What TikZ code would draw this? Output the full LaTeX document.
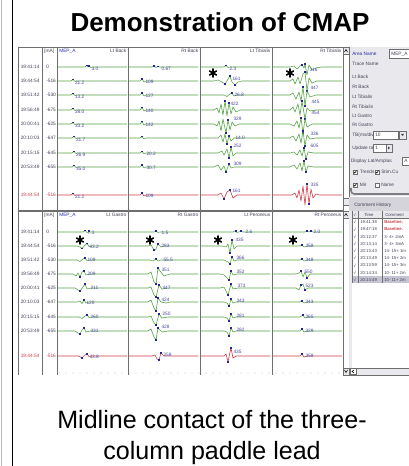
\documentclass[tikz,border=0pt]{standalone}
\usepackage{fontspec}
\setmainfont{Liberation Sans}

\definecolor{trgreen}{RGB}{86,164,70}
\definecolor{trred}{RGB}{204,62,72}
\definecolor{mkblue}{RGB}{36,36,150}
\definecolor{valblue}{RGB}{72,72,160}
\definecolor{linegray}{RGB}{110,110,110}
\definecolor{panelgray}{RGB}{233,233,237}
\definecolor{txtgray}{RGB}{66,66,88}
\definecolor{uiblue}{RGB}{40,40,175}

\newcommand\uifont{\fontsize{3.6}{4.2}\selectfont}
\newcommand\tblfont{\fontsize{3.2}{3.8}\selectfont}

% one recorded trace: column left, baseline, style, deflection, markers, label x, label y, label
\newcommand\trace[8]{%
  \begin{scope}[shift={(#1,#2)}]
    \draw[#3] (1,0) #4 -- (70,0);
    \foreach \mx/\my in {#5} \fill[mkblue] (\mx-0.9,\my-0.9) rectangle ++(1.8,1.8);
    \draw (#6,#7) node[val] {#8};
  \end{scope}}

% stimulation mark
\newcommand\astk[2]{\foreach \ang in {90,30,150} \draw[line width=1.2pt,line cap=round] (#1,#2) ++(\ang:4) -- ++(\ang+180:8);}

\begin{document}
\begin{tikzpicture}[x=0.75pt,y=0.75pt,yscale=-1,xscale=1,
  trg/.style={color=trgreen,line width=0.45pt,line join=round},
  trr/.style={color=trred,line width=0.45pt,line join=round},
  val/.style={anchor=west,inner sep=0.2pt,font=\uifont,text=valblue},
  colline/.style={color=linegray,line width=0.5pt},
  ui/.style={anchor=west,inner sep=0pt,font=\uifont,text=txtgray},
  tbl/.style={anchor=west,inner sep=0pt,font=\tblfont,text=txtgray},
  hdr/.style={anchor=east,inner sep=0pt,font=\uifont,text=txtgray},
  chk/.style={draw=linegray,fill=white,line width=0.3pt}]

\fill[white] (0,0) rectangle (409,466);
\clip (0,0) rectangle (409,466);

%Slide border
\draw[color={rgb,255:red,185;green,185;blue,185},line width=0.8pt] (1.5,0) -- (1.5,466);
\draw[line width=1.1pt] (12.7,0) -- (12.7,466);

% Title
\draw (220,32) node[anchor=base,inner sep=0pt,font=\fontsize{19.5}{23}\selectfont\bfseries] {Demonstration of CMAP};

% Caption
\draw (212,428) node[anchor=base,inner sep=0pt,font=\fontsize{18.8}{23}\selectfont] {Midline contact of the three-};
\draw (212,459) node[anchor=base,inner sep=0pt,font=\fontsize{18.8}{23}\selectfont] {column paddle lead};

% Chart grid
\foreach \cx in {18,42,57,128,200,272,343} \draw[colline] (\cx,47) -- (\cx,375);
\draw[colline] (18,47) -- (343,47);
\draw[colline,line width=0.8pt] (18,211) -- (343,211);
\foreach \dx in {59,66,...,341} \fill[linegray] (\dx,373) circle (0.35);

% Header rows
\foreach \hy/\la/\lb/\lc/\ld in {51/Lt Back/Rt Back/Lt Tibialis/Rt Tibialis,215/Lt Gastro/Rt Gastro/Lt Peroneus/Rt Peroneus}{
  \draw (44,\hy) node[ui] {[mA]};
  \draw (59,\hy) node[ui,text=uiblue] {MEP\_A};
  \draw (126.5,\hy) node[hdr] {\la};
  \draw (198.5,\hy) node[hdr] {\lb};
  \draw (270.5,\hy) node[hdr] {\lc};
  \draw (341.5,\hy) node[hdr] {\ld};
}

% Times and stimulation currents
\foreach \ry/\ti/\ma in {67/19:41:14/0,81/19:44:54/-516,95/19:51:42/-530,110/19:56:49/-675,124/20:00:41/-625,138/20:10:03/-647,153/20:15:15/-645,167/20:53:49/-655,
  232/19:41:14/0,246/19:44:54/-516,260/19:51:42/-530,274/19:56:49/-675,288/20:00:41/-625,302/20:10:03/-647,317/20:15:15/-645,331/20:53:49/-655}{
  \draw (20.5,\ry) node[ui] {\ti};
  \draw (46,\ry) node[ui] {\ma};
}
\foreach \ry in {195,356}{
  \draw (20.5,\ry) node[ui,text=trred] {19:44:54};
  \draw (46,\ry) node[ui,text=trred] {-516};
}

%Traces Lt Back
\trace{57}{67}{trg}{--(28,0)--(30,-1.5)--(31,0)--(32,-0.8)--(34,0.5)--(36,0)}{30/-1.5,32/-0.8}{34}{1.8}{3.0}
\trace{57}{81}{trg}{--(14,0)--(16,-1.5)--(18,0.5)--(20,0)}{16/-1.5}{17.5}{1.8}{21.2}
\trace{57}{95}{trg}{--(14,0)--(16,-1.5)--(18,0.5)--(20,0)}{16/-1.5}{17.5}{1.8}{13.2}
\trace{57}{110}{trg}{--(14,0)--(16,-1.5)--(18,0.5)--(20,0)}{16/-1.5}{17.5}{1.8}{28.0}
\trace{57}{124}{trg}{--(14,0)--(16,-1.5)--(18,0.5)--(20,0)}{16/-1.5}{17.5}{1.8}{33.2}
\trace{57}{138}{trg}{--(15,0)--(17,-1.5)--(19,0.5)--(21,0)}{17/-1.5}{18.5}{1.8}{21.7}
\trace{57}{153}{trg}{--(15,0)--(17,-1.5)--(19,0.5)--(21,0)}{17/-1.5}{18.5}{1.8}{26.9}
\trace{57}{167}{trg}{--(15,0)--(17,-1.5)--(19,0.5)--(21,0)}{17/-1.5}{18.5}{1.8}{35.0}
\trace{57}{195}{trr}{--(14,0)--(16,-1.5)--(18,0.5)--(20,0)}{16/-1.5}{17.5}{1.8}{21.2}

%Traces Rt Back
\trace{128}{67}{trg}{--(24,0)--(26,-1)--(28,0.5)--(30,-0.5)--(32,0)}{26/-1,30/-0.5}{33}{1.8}{0.67}
\trace{128}{81}{trg}{--(12,0)--(14,-2)--(16,1)--(18,0)}{14/-2}{17}{0.8}{109}
\trace{128}{95}{trg}{--(12,0)--(14,-2)--(16,1)--(18,0)}{14/-2}{17}{0.8}{127}
\trace{128}{110}{trg}{--(12,0)--(14,-2.5)--(16,1)--(18,0)}{14/-2.5}{17}{0.8}{140}
\trace{128}{124}{trg}{--(12,0)--(14,-2.5)--(16,1)--(18,0)}{14/-2.5}{17}{0.8}{142}
\trace{128}{138}{trg}{--(12,0)--(14,-1.5)--(16,1)--(18,0)}{14/-1.5}{17}{0.8}{}
\trace{128}{153}{trg}{--(12,0)--(14,-1.5)--(16,0.8)--(18,0)}{14/-1.5}{18}{1}{20.2}
\trace{128}{167}{trg}{--(12,0)--(14,-2)--(16,1)--(18,0)}{14/-2}{18}{0.8}{30.7}
\trace{128}{195}{trr}{--(12,0)--(14,-2)--(16,1)--(18,0)}{14/-2}{17}{0.8}{109}

%Traces Lt Tibialis
\trace{200}{67}{trg}{--(24,0)--(26,-1.5)--(28,0.5)--(30,0)}{26/-1.5}{29}{1.5}{2.3}
\trace{200}{81}{trg}{--(14,0)--(18,-1)--(22,1)--(25,3)--(28,-2)--(30,-5)--(32,1)--(35,4)--(38,1)--(42,0)}{25/3,30/-5,35/4}{32}{-2.5}{161}
\trace{200}{95}{trg}{--(24,0)--(27,1.5)--(30,-1)--(32,-2)--(34,1)--(37,0)}{32/-2}{34}{0}{26.8}
\trace{200}{110}{trg}{--(14,0)--(17,-2)--(19,3)--(21,-6)--(23,5)--(25,-9)--(27,6)--(29,-7)--(31,4)--(33,-3)--(36,2)--(40,0)}{25/-9,29/-7}{30}{-6}{422}
\trace{200}{124}{trg}{--(14,0)--(17,2)--(19,-3)--(21,7)--(23,-5)--(26,9)--(28,-4)--(30,6)--(32,-2)--(35,2)--(39,0)}{26/9,28/-4}{33}{-5}{329}
\trace{200}{138}{trg}{--(18,0)--(21,-3)--(23,4)--(25,-4)--(27,6)--(29,-2)--(31,3)--(34,0)}{27/6,29/-2}{35}{0}{14.0}
\trace{200}{153}{trg}{--(18,0)--(22,-2)--(24,2)--(27,-4)--(29,5)--(31,-6)--(33,3)--(36,0)}{29/5,31/-6}{33}{-7}{252}
\trace{200}{167}{trg}{--(14,0)--(18,-2)--(21,3)--(24,-1)--(26,5)--(29,-3)--(31,1)--(34,0)}{26/5,29/-3}{33}{-3}{309}
\trace{200}{195}{trr}{--(18,0)--(21,-2)--(24,4)--(27,-3)--(30,-5)--(33,3)--(37,0)}{24/4,30/-5}{32}{-4}{161}

%Traces Rt Tibialis
\trace{272}{67}{trg}{--(18,0)--(22,-1)--(25,2)--(28,-1)--(30,-2)--(32,1)--(33,-3)--(35,8)--(37,-2)--(40,3)--(44,1)--(50,0)}{30/-2,33/-3}{37}{3}{316}
\trace{272}{81}{trg}{--(18,0)--(21,-2)--(23,3)--(26,-4)--(28,3)--(31,-7)--(33,-9)--(35,10)--(37,-3)--(40,2)--(45,0)}{33/-9,35/10}{38}{7}{447}
\trace{272}{95}{trg}{--(18,0)--(21,-2)--(24,4)--(27,-3)--(29,6)--(31,-8)--(33,11)--(35,-4)--(38,2)--(44,0)}{31/-8,33/11}{39}{7}{445}
\trace{272}{110}{trg}{--(18,0)--(21,-3)--(23,2)--(26,-6)--(28,5)--(30,-9)--(33,9)--(35,-2)--(38,1)--(44,0)}{30/-9,33/9}{39}{3}{454}
\trace{272}{124}{trg}{--(18,0)--(22,2)--(25,-3)--(27,4)--(29,-6)--(31,9)--(33,-5)--(35,3)--(40,0)}{29/-6,31/9}{38}{10}{336}
\trace{272}{138}{trg}{--(18,0)--(21,-2)--(24,3)--(27,-4)--(29,5)--(31,-7)--(33,8)--(35,-3)--(38,1)--(44,0)}{31/-7,33/8}{38}{8}{605}
\trace{272}{153}{trg}{--(18,0)--(22,-1)--(25,2)--(28,-3)--(30,3)--(32,-5)--(34,6)--(36,-1)--(42,0)}{32/-5,34/6}{38}{-4}{}
\trace{272}{167}{trg}{--(18,0)--(22,-2)--(25,2)--(28,-4)--(30,4)--(32,-6)--(34,5)--(36,-1)--(42,0)}{32/-6,34/5}{38}{-4}{}
\trace{272}{195}{trr}{--(20,0)--(23,-2)--(25,3)--(27,-5)--(29,6)--(31,-9)--(33,10)--(35,-11)--(37,9)--(39,-6)--(41,3)--(44,-1)--(48,0)}{35/-11,37/9}{38}{-10}{335}

%Traces Lt Gastro
\trace{57}{232}{trg}{--(26,0)--(28,-1.5)--(30,0.5)--(32,0)}{28/-1.5,32/-1}{30}{1}{7.3}
\trace{57}{246}{trg}{--(20,0)--(23,1)--(25,2.5)--(28,-1)--(30,-2.5)--(32,0.5)--(35,0)}{25/2.5,30/-2.5}{32}{1}{93.2}
\trace{57}{260}{trg}{--(20,0)--(23,1.5)--(26,-1)--(28,-2)--(30,0.5)--(33,0)}{28/-2}{30}{0}{109}
\trace{57}{274}{trg}{--(16,0)--(19,2)--(21,-1)--(23,3)--(25,-2)--(27,-3)--(29,1)--(33,0)}{23/3,27/-3}{30}{0}{209}
\trace{57}{288}{trg}{--(18,0)--(21,2)--(23,3)--(26,-1)--(28,-4)--(30,1)--(34,0)}{23/3,28/-4}{33}{0}{211}
\trace{57}{302}{trg}{--(20,0)--(23,-1)--(25,1.5)--(27,-2)--(29,1)--(32,0)}{27/-2}{29}{1}{120}
\trace{57}{317}{trg}{--(22,0)--(25,1.5)--(28,-1)--(30,-2)--(32,0.5)--(35,0)}{30/-2}{33}{0}{260}
\trace{57}{331}{trg}{--(18,0)--(21,2)--(23,3)--(25,-1)--(27,-3)--(29,1)--(33,0)}{23/3,27/-3}{33}{0}{331}
\trace{57}{356}{trr}{--(22,0)--(25,2)--(28,-1)--(30,-2)--(32,0.5)--(35,0)}{25/2,30/-2}{32}{1}{33.8}

%Traces Rt Gastro
\trace{128}{232}{trg}{--(26,0)--(28,-1)--(30,0.5)--(32,0)}{28/-1}{33}{1}{1.5}
\trace{128}{246}{trg}{--(20,0)--(23,-1)--(26,4)--(28,3)--(30,-2)--(33,1)--(36,0)}{26/4,30/-2}{33}{0}{283}
\trace{128}{260}{trg}{--(22,0)--(25,1)--(28,-1)--(30,1)--(33,0)}{28/-1}{35}{0}{55.5}
\trace{128}{274}{trg}{--(20,0)--(23,-2)--(26,8)--(28,10)--(30,-6)--(32,-3)--(36,2)--(42,0)}{28/10,30/-6}{33}{-4}{351}
\trace{128}{288}{trg}{--(20,0)--(23,-1)--(26,7)--(28,9)--(31,-3)--(34,1)--(40,0)}{28/9,31/-3}{34}{0}{447}
\trace{128}{302}{trg}{--(20,0)--(23,-2)--(26,6)--(28,9)--(30,-4)--(33,0)--(38,1)--(42,0)}{28/9,30/-4}{33}{-2}{424}
\trace{128}{317}{trg}{--(20,0)--(23,-1)--(26,6)--(28,8)--(31,-3)--(34,1)--(40,0)}{28/8,31/-3}{34}{-3}{250}
\trace{128}{331}{trg}{--(20,0)--(23,-2)--(26,6)--(28,9)--(30,-3)--(34,1)--(40,0)}{28/9,30/-3}{33}{-4}{428}
\trace{128}{356}{trr}{--(24,0)--(27,-1)--(29,3)--(31,4)--(33,-3)--(36,0)}{31/4,33/-3}{35}{-1}{259}

%Traces Lt Peroneus
\trace{200}{232}{trg}{--(33,0)--(35,-1)--(37,0.5)--(39,0)--(41,-1)--(43,0)}{36/-1,41/-1}{45}{0}{2.6}
\trace{200}{246}{trg}{--(22,0)--(26,1)--(28,-2)--(30,7)--(32,-6)--(34,3)--(37,0)}{30/7,32/-6}{35}{-6}{435}
\trace{200}{260}{trg}{--(24,0)--(28,2)--(30,4)--(32,-3)--(34,1)--(37,0)}{30/4,32/-3}{36}{-2}{366}
\trace{200}{274}{trg}{--(20,0)--(24,1)--(27,4)--(29,6)--(31,-3)--(33,1)--(37,0)}{29/6,31/-3}{36}{-2}{352}
\trace{200}{288}{trg}{--(20,0)--(24,-1)--(26,3)--(28,7)--(31,-4)--(33,1)--(38,0)}{28/7,31/-4}{37}{-2}{373}
\trace{200}{302}{trg}{--(24,0)--(27,1)--(29,4)--(31,-3)--(33,1)--(36,0)}{29/4,31/-3}{36}{-1}{343}
\trace{200}{317}{trg}{--(24,0)--(27,1)--(29,4)--(31,-3)--(33,1)--(36,0)}{29/4,31/-3}{36}{-1}{281}
\trace{200}{331}{trg}{--(24,0)--(27,1)--(29,5)--(31,-3)--(33,1)--(36,0)}{29/5,31/-3}{36}{-1}{282}
\trace{200}{356}{trr}{--(24,0)--(26,-2)--(28,6)--(30,-4)--(31,-8)--(33,2)--(36,0)}{28/6,31/-8}{33}{-4}{435}

%Traces Rt Peroneus
\trace{272}{232}{trg}{--(33,0)--(35,-1)--(37,0)--(39,-1)--(41,0)}{35/-1,39/-1}{41}{0}{2.0}
\trace{272}{246}{trg}{--(28,0)--(30,-1)--(32,1)--(34,0.5)--(36,0)}{30/-1}{33}{0}{358}
\trace{272}{260}{trg}{--(28,0)--(30,-1)--(32,1)--(35,0)}{30/-1}{33}{0}{348}
\trace{272}{274}{trg}{--(24,0)--(27,-1)--(29,-3)--(31,3)--(33,-2)--(35,4)--(38,0)}{29/-3,35/4}{32}{-2}{550}
\trace{272}{288}{trg}{--(24,0)--(27,2)--(29,-3)--(31,-4)--(33,2)--(36,0)}{29/-3,33/2}{33}{-2}{523}
\trace{272}{302}{trg}{--(28,0)--(30,-1)--(32,1)--(35,0)}{30/-1}{33}{0}{343}
\trace{272}{317}{trg}{--(28,0)--(31,-2)--(33,1)--(36,0)}{31/-2}{33}{0}{365}
\trace{272}{331}{trg}{--(28,0)--(30,-2)--(32,1)--(35,0)}{30/-2}{33}{0}{329}
\trace{272}{356}{trr}{--(28,0)--(30,-2)--(32,1)--(35,0)}{30/-2}{33}{0}{358}

% Stimulation marks
\astk{213}{73} \astk{290}{73}
\astk{80}{240} \astk{150}{240} \astk{218}{240} \astk{293}{240}

% Chart scroll bar
\draw[colline,fill=white] (343,47) rectangle (349,375);
\foreach \by in {47,211}{
  \draw[colline,fill=panelgray] (343,\by) rectangle (349,\by+7);
  \draw[line width=0.4pt] (344.5,\by+5) -- (346,\by+2.5) -- (347.5,\by+5);
}
\draw[colline,fill=panelgray] (343,198) rectangle (349,205);
\draw[colline,fill=panelgray] (343,368) rectangle (349,375);
\draw[line width=0.4pt] (344.5,370) -- (346,372.5) -- (347.5,370);

% Settings panel
\fill[panelgray] (349,47) rectangle (409,196);
\draw[colline] (349,47) -- (349,196);
\draw (352,54) node[ui,text=uiblue] {Area Name};
\draw[chk] (389,49.5) rectangle (412,58.5);
\draw (391,54) node[ui] {MEP\_A};
\foreach \sy/\st in {64/Trace Name,77/Lt Back,87/Rt Back,97/Lt Tibialis,107/Rt Tibialis,116/Lt Gastro,125/Rt Gastro}
  \draw (352,\sy) node[ui] {\st};
\draw (352,135) node[ui] {TB(ms/div)};
\draw[chk] (373,131) rectangle (398,139);
\draw (375,135) node[ui] {10};
\draw[chk,fill=panelgray] (399,131) rectangle (406,139);
\fill[txtgray] (401,134) -- (404,134) -- (402.5,136) -- cycle;
\draw (352,148) node[ui] {Update rate};
\draw[chk] (373,144) rectangle (386,152);
\draw (375,148) node[ui] {1};
\draw[chk,fill=panelgray] (386,144) rectangle (392,152);
\fill[txtgray] (388,146.5) -- (388,149.5) -- (390,148) -- cycle;
\draw (350.5,161) node[ui] {Display Lat/Amplas};
\draw[chk] (402,157) rectangle (412,165);
\draw (404,161) node[ui] {A};
\draw[chk] (353,170) rectangle (357,174);
\draw[line width=0.4pt] (353.8,172) -- (354.8,173.2) -- (356.4,170.6);
\draw (359.5,172) node[ui] {Trends};
\draw[chk] (375,170) rectangle (379,174);
\draw[line width=0.4pt] (375.8,172) -- (376.8,173.2) -- (378.4,170.6);
\draw (381,172) node[ui] {Stim.Cu};
\draw[chk] (353,183) rectangle (357,187);
\draw[line width=0.4pt] (353.8,185) -- (354.8,186.2) -- (356.4,183.6);
\draw (359.5,185) node[ui] {Mir};
\draw[chk] (375,183) rectangle (379,187);
\draw (381,185) node[ui] {Name};
\draw[line width=1.2pt,color={rgb,255:red,125;green,125;blue,130},rounded corners=2.5] (351,188) -- (351,194) -- (412,194);

% Comment history
\fill[color={rgb,255:red,212;green,212;blue,218}] (349,197) rectangle (409,211);
\draw (354,205.5) node[ui] {Comment History};
\fill[panelgray] (349,211) rectangle (352,368);
\fill[white] (352,211) rectangle (409,368);
\fill[panelgray] (352,211) rectangle (409,218.5);
\fill[color={rgb,255:red,196;green,196;blue,210}] (352,275.8) rectangle (409,283.2);
\draw[colline,line width=0.3pt] (352,218.5) -- (409,218.5);
\foreach \tx in {352,358,382} \draw[colline,line width=0.3pt] (\tx,211) -- (\tx,283.2);
\draw (353.3,215) node[tbl] {√};
\draw (364,215) node[tbl] {Time};
\draw (385,215) node[tbl] {Comment};
\foreach \ry/\ct/\cc in {222.2/19:41:38/,229.4/19:47:18/,236.6/20:12:37/3- 4+ 2mA,243.8/20:13:14/3- 4+ 3mA,251/20:13:43/14- 15+ 1m,258.2/20:13:49/14- 15+ 2m,265.4/20:13:59/14- 15+ 3m,272.6/20:14:34/10- 11+ 2m,279.8/20:14:49/10- 11+ 2m}{
  \draw (353.3,\ry) node[tbl] {√};
  \draw (360,\ry) node[tbl] {\ct};
  \draw (384,\ry) node[tbl] {\cc};
}
\draw (384,222.2) node[tbl,text=trred,font=\tblfont\bfseries] {Baseline.};
\draw (384,229.4) node[tbl,text=trred,font=\tblfont\bfseries] {Baseline.};
\draw[colline,fill=panelgray] (349,368) rectangle (412,375);
\draw[colline,fill=white] (350,368.5) rectangle (356,374.5);
\draw[line width=0.4pt] (354,370) -- (352,371.5) -- (354,373);

\end{tikzpicture}
\end{document}
